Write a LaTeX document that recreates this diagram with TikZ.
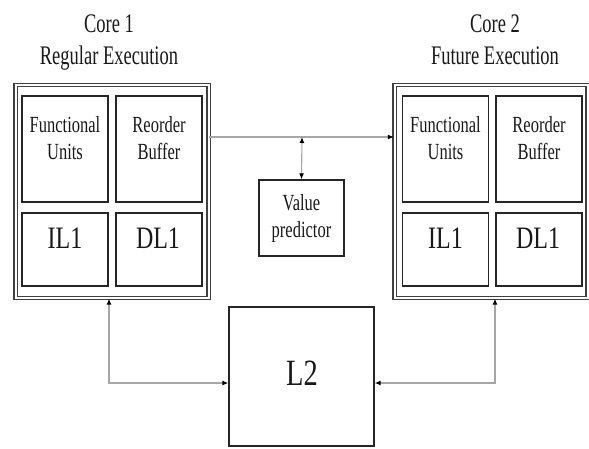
\documentclass[tikz,border=0pt]{standalone}
\usepackage{fontspec}
\setmainfont{Liberation Serif}
\usepackage{graphicx}
\usetikzlibrary{arrows.meta}
\newcommand\lbltext[3]{\scalebox{1}[#1]{\fontsize{#2}{1.2\dimexpr #2pt\relax}\selectfont\begin{tabular}[t]{@{}c@{}}#3\end{tabular}}}
\tikzset{
  corebox/.style={draw=black!75, line width=1.25pt, double=white, double distance=2pt, minimum width=193pt, minimum height=213pt, inner sep=0pt},
  unitbox/.style={draw=black!85, line width=1.9pt, minimum width=86pt, inner sep=0pt},
  plainbox/.style={draw=black!85, line width=1.4pt, inner sep=0pt},
  lbl/.style={anchor=base, inner sep=0pt, text=black!90},
  conn/.style={draw=black!35, line width=1.1pt},
  tip/.style={{Latex[length=6pt,width=5pt,black]}-{Latex[length=6pt,width=5pt,black]}},
  tipend/.style={-{Latex[length=6pt,width=5pt,black]}}
}
\begin{document}
\begin{tikzpicture}[x=1pt,y=-1pt]
\useasboundingbox[fill=white] (0,0) rectangle (589,448);
% titles
\node[lbl] (t1) at (109,32) {\lbltext{1.45}{18.5}{Core 1\\Regular Execution}};
\node[lbl] (t2) at (495,32) {\lbltext{1.45}{18.5}{Core 2\\Future Execution}};
% cores
\node[corebox] (core1) at (112,191.5) {};
\node[corebox] (core2) at (491,191.5) {};
% core 1 units
\node[unitbox, minimum height=106pt] (fu1) at (65,149) {};
\node[unitbox, minimum height=106pt] (rb1) at (159,149) {};
\node[unitbox, minimum height=73pt] (il1) at (65,249.5) {};
\node[unitbox, minimum height=73pt] (dl1) at (159,249.5) {};
\node[lbl] (fu1t) at (65,132) {\lbltext{1.4}{16.5}{Functional\\Units}};
\node[lbl] (rb1t) at (159,132) {\lbltext{1.4}{16.5}{Reorder\\Buffer}};
\node[lbl] (il1t) at (65,248) {\lbltext{1.3}{24}{IL1}};
\node[lbl] (dl1t) at (158,248) {\lbltext{1.3}{24}{DL1}};
% core 2 units
\node[unitbox, minimum height=106pt] (fu2) at (445.5,149) {};
\node[unitbox, minimum height=106pt] (rb2) at (539,149) {};
\node[unitbox, minimum height=73pt] (il2) at (445.5,249.5) {};
\node[unitbox, minimum height=73pt] (dl2) at (539,249.5) {};
\node[lbl] (fu2t) at (445.5,132) {\lbltext{1.4}{16.5}{Functional\\Units}};
\node[lbl] (rb2t) at (539,132) {\lbltext{1.4}{16.5}{Reorder\\Buffer}};
\node[lbl] (il2t) at (445.5,248) {\lbltext{1.3}{24}{IL1}};
\node[lbl] (dl2t) at (538,248) {\lbltext{1.3}{24}{DL1}};
% value predictor
\node[plainbox, minimum width=85pt, minimum height=76pt] (vp) at (301.5,218) {};
\node[lbl] (vpt) at (301.5,210) {\lbltext{1.4}{16.5}{Value\\predictor}};
% L2
\node[plainbox, minimum width=145pt, minimum height=139pt] (l2) at (301.5,376.5) {};
\node[lbl] (l2t) at (302,385) {\lbltext{1.3}{28.5}{L2}};
% connectors
\coordinate (j) at (302,137);
\draw[conn, tipend] (core1.east |- j) -- (core2.west |- j);
\draw[conn, tip] (j) -- (vp.north);
\draw[conn, tip] ([xshift=-3pt]core1.south) |- ([yshift=-6.5pt]l2.west);
\draw[conn, tip] ([xshift=4pt]core2.south) |- ([yshift=-6.5pt]l2.east);
\end{tikzpicture}
\end{document}
